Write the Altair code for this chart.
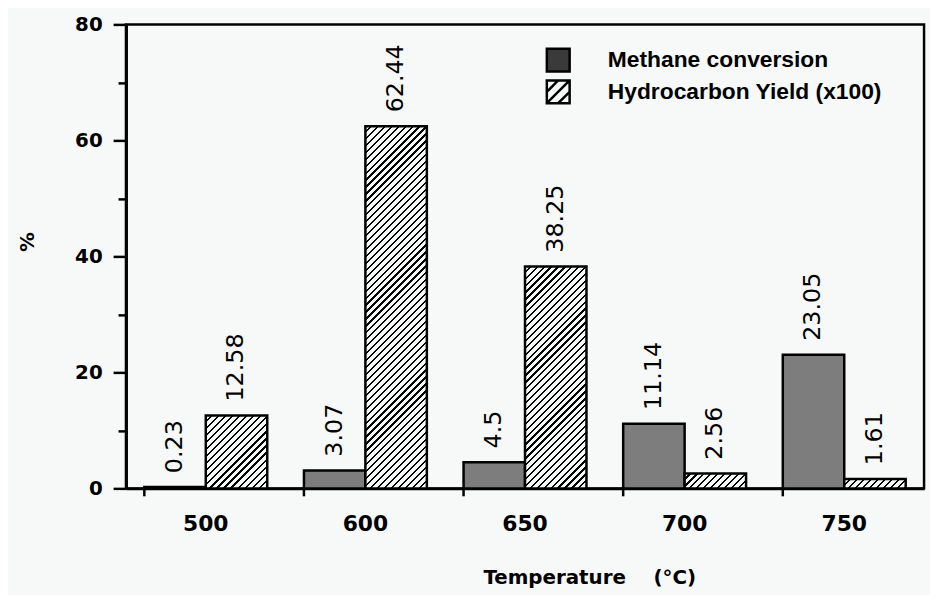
import altair as alt
import pandas as pd

# ---- data ----
temps = ["500", "600", "650", "700", "750"]
methane = [0.23, 3.07, 4.5, 11.14, 23.05]
hydro = [12.58, 62.44, 38.25, 2.56, 1.61]
series_names = ["Methane conversion", "\u2002Hydrocarbon Yield (x100)"]
y_ticks = [0, 10, 20, 30, 40, 50, 60, 70, 80]

rows = []
for t, m, h in zip(temps, methane, hydro):
    rows.append({"temp": t, "series": series_names[0], "value": m, "label": f"{m:g}"})
    rows.append({"temp": t, "series": series_names[1], "value": h, "label": f"{h:g}"})
df = pd.DataFrame(rows)

W, H = 805, 468
YMAX = 80
PAD_IN = 0.23
BG = "#f7f8f8"


def hatch(value):
    """Diagonal '/' hatching as a hard-stop linear gradient sized to the bar."""
    w = W / len(temps) * (1 - PAD_IN) / 2
    h = max(value * H / YMAX, 1.0)
    k = (w + h) / (w * w + h * h)
    period = 7.0
    n = max(1, round((w + h) / period))
    frac = 0.32
    stops = []
    for i in range(n):
        a = i / n
        b = (i + 1 - frac) / n
        c = (i + 1) / n
        stops += [
            {"offset": a, "color": BG},
            {"offset": b, "color": BG},
            {"offset": b, "color": "black"},
            {"offset": c, "color": "black"},
        ]
    return {"gradient": "linear", "x1": 0, "y1": 0, "x2": w * k, "y2": h * k, "stops": stops}


x_enc = alt.X(
    "temp:N",
    sort=temps,
    scale=alt.Scale(paddingInner=PAD_IN, paddingOuter=PAD_IN / 2),
    axis=alt.Axis(
        title="Temperature\u00a0\u00a0\u00a0\u00a0(°C)",
        titleFont="DejaVu Sans",
        titleFontSize=20,
        titleFontWeight="bold",
        titleColor="black",
        titleAlign="left",
        titleX=360,
        titleY=80,
        titleBaseline="top",
        labelFont="DejaVu Sans",
        labelFontWeight="bold",
        labelFontSize=22,
        labelColor="black",
        labelAngle=0,
        labelPadding=25,
        ticks=False,
        tickSize=0,
        domainColor="black",
        domainWidth=3,
    ),
)
xoff_enc = alt.XOffset(
    "series:N", scale=alt.Scale(domain=series_names, paddingInner=0, paddingOuter=0)
)
y_enc = alt.Y(
    "value:Q",
    scale=alt.Scale(domain=[0, YMAX], nice=False),
    axis=alt.Axis(
        title="%",
        titleFont="DejaVu Sans",
        titleFontSize=20,
        titleFontWeight="bold",
        titleColor="black",
        titleX=-99,
        titleY=219,
        titleAlign="center",
        titleBaseline="middle",
        values=y_ticks,
        labelExpr="datum.value % 20 == 0 ? datum.label : ''",
        labelFont="DejaVu Sans",
        labelFontWeight="bold",
        labelFontSize=20,
        labelColor="black",
        labelPadding=11,
        tickSize={"condition": {"test": "datum.value % 20 == 0", "value": 13}, "value": 8},
        tickWidth=2.5,
        tickColor="black",
        domainColor="black",
        domainWidth=3,
    ),
)

base = alt.Chart(df)

methane_bars = (
    base.transform_filter(alt.FieldEqualPredicate(field="series", equal=series_names[0]))
    .mark_bar(fill="#7d7d7d", stroke="black", strokeWidth=2.5)
    .encode(x=x_enc, xOffset=xoff_enc, y=y_enc)
)

hydro_layers = []
for t, h in zip(temps, hydro):
    hydro_layers.append(
        base.transform_filter(alt.FieldEqualPredicate(field="series", equal=series_names[1]))
        .transform_filter(alt.FieldEqualPredicate(field="temp", equal=t))
        .mark_bar(fill=hatch(h), stroke="black", strokeWidth=2.5)
        .encode(x=x_enc, xOffset=xoff_enc, y=y_enc)
    )

labels = base.mark_text(
    angle=270, align="left", baseline="middle", dx=14,
    font="DejaVu Sans", fontSize=24, color="black",
).encode(x=x_enc, xOffset=xoff_enc, y=y_enc, text="label:N")

x_ticks = (
    alt.Chart(pd.DataFrame({"temp": temps}))
    .mark_rule(color="black", strokeWidth=2.5)
    .encode(
        x=alt.X("temp:N", sort=temps, bandPosition=0),
        y=alt.value(H),
        y2=alt.value(H + 8),
    )
)

sq_path = "M-1,-1H1V1H-1Z"
hatch_path = "M-1,-1H1V1H-1Z M-1,0L0,-1 M-1,1L1,-1 M0,1L1,0"

leg = alt.Legend(
    title=None,
    orient="none",
    legendX=423,
    legendY=23,
    symbolSize=529,
    symbolStrokeColor="black",
    symbolStrokeWidth=2.5,
    symbolOpacity=1,
    labelFont="Liberation Sans",
    labelFontSize=23,
    labelFontWeight="bold",
    labelColor="black",
    labelOffset=37,
    rowPadding=-2,
    padding=0,
    labelLimit=400,
)

legend_layer = (
    base.transform_filter("false")
    .mark_point(filled=True, size=529, opacity=1, strokeWidth=2.5)
    .encode(
        fill=alt.Fill("series:N", scale=alt.Scale(domain=series_names, range=["#3a3a3a", BG]), legend=leg),
        stroke=alt.Stroke("series:N", scale=alt.Scale(domain=series_names, range=["black", "black"]), legend=leg),
        shape=alt.Shape("series:N", scale=alt.Scale(domain=series_names, range=[sq_path, hatch_path]), legend=leg),
    )
)

chart = (
    alt.layer(methane_bars, *hydro_layers, labels, x_ticks, legend_layer)
    .properties(
        width=W,
        height=H,
        autosize=alt.AutoSizeParams(type="none"),
        padding={"left": 119, "top": 14, "right": 6, "bottom": 105},
        background=BG,
    )
    .configure_view(stroke="black", strokeWidth=2.5)
    .configure_axis(grid=False)
)

chart.save("out.html", embed_options={"renderer": "svg", "actions": False})
